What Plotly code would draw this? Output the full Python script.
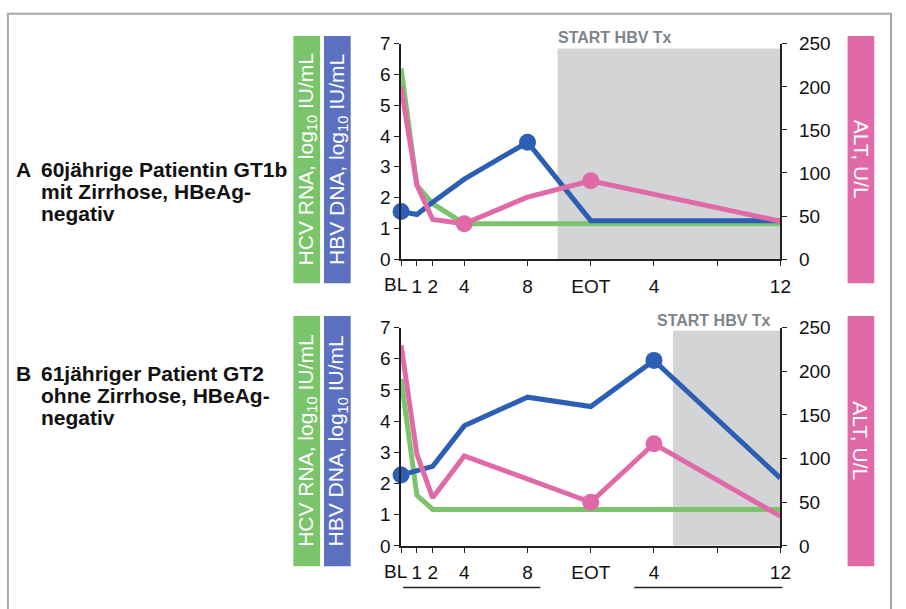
import plotly.graph_objects as go

W, H = 906, 609

# ---------------- data ----------------
tick_vals = [1, 2, 4, 8, 12, 16, 24]
tick_text = ["1", "2", "4", "8", "EOT", "4", "12"]
minor_tick_vals = [0, 20]
baseline_label = "BL"

# Panel A
a_hcv_x = [0, 1, 2, 4, 24]
a_hcv_y = [6.2, 2.4, 1.8, 1.15, 1.15]
a_hbv_x = [0, 1, 2, 4, 8, 12, 24]
a_hbv_y = [1.55, 1.45, 1.85, 2.6, 3.8, 1.25, 1.25]
a_hbv_mx = [0, 8]
a_hbv_my = [1.55, 3.8]
a_alt_x = [0, 1, 2, 4, 8, 12, 24]
a_alt_y = [200, 86, 46, 41, 72, 91, 44]
a_alt_mx = [4, 12]
a_alt_my = [41, 91]
a_shade = [9.9, 24]

# Panel B
b_hcv_x = [0, 1, 2, 24]
b_hcv_y = [5.35, 1.62, 1.17, 1.17]
b_hbv_x = [0, 1, 2, 4, 8, 12, 16, 24]
b_hbv_y = [2.27, 2.42, 2.55, 3.85, 4.77, 4.47, 5.95, 2.17]
b_hbv_mx = [0]
b_hbv_my = [2.27]
b_hbv_mx2 = [16]
b_hbv_my2 = [5.95]
b_alt_x = [0, 1, 2, 4, 12, 16, 24]
b_alt_y = [230, 105, 55, 103, 50, 117, 34]
b_alt_mx = [12, 16]
b_alt_my = [50, 117]
b_shade = [17.2, 24]

title_a = ["A", "60jährige Patientin GT1b", "mit Zirrhose, HBeAg-", "negativ"]
title_b = ["B", "61jähriger Patient GT2", "ohne Zirrhose, HBeAg-", "negativ"]

# ---------------- style ----------------
GREEN = "#7cc46c"
BLUE = "#2c5eb3"
PINK = "#e06aa8"
GREEN_BOX = "#7ac46b"
BLUE_BOX = "#5b70bf"
PINK_BOX = "#e06aa8"
SHADE = "#d3d4d6"
FONT = "Liberation Sans, Arial, sans-serif"


def px(x):
    return x / W


def py(y):
    return 1 - y / H


fig = go.Figure()

LW = 5
MS = 17


def add_panel(xa, yl, yr, hcv, hbv, hbv_marks, alt, alt_marks):
    fig.add_trace(go.Scatter(x=hcv[0], y=hcv[1], mode="lines", line=dict(color=GREEN, width=LW),
                             xaxis=xa, yaxis=yl, cliponaxis=False, showlegend=False))
    fig.add_trace(go.Scatter(x=hbv[0], y=hbv[1], mode="lines", line=dict(color=BLUE, width=LW),
                             xaxis=xa, yaxis=yl, cliponaxis=False, showlegend=False))
    for mx, my in hbv_marks:
        fig.add_trace(go.Scatter(x=mx, y=my, mode="markers", marker=dict(color=BLUE, size=MS),
                                 xaxis=xa, yaxis=yl, cliponaxis=False, showlegend=False))
    fig.add_trace(go.Scatter(x=alt[0], y=alt[1], mode="lines", line=dict(color=PINK, width=LW),
                             xaxis=xa, yaxis=yr, cliponaxis=False, showlegend=False))
    fig.add_trace(go.Scatter(x=alt_marks[0], y=alt_marks[1], mode="markers", marker=dict(color=PINK, size=MS),
                             xaxis=xa, yaxis=yr, cliponaxis=False, showlegend=False))


add_panel("x", "y", "y2", (a_hcv_x, a_hcv_y), (a_hbv_x, a_hbv_y), [(a_hbv_mx, a_hbv_my)],
          (a_alt_x, a_alt_y), (a_alt_mx, a_alt_my))
add_panel("x2", "y3", "y4", (b_hcv_x, b_hcv_y), (b_hbv_x, b_hbv_y),
          [(b_hbv_mx, b_hbv_my), (b_hbv_mx2, b_hbv_my2)],
          (b_alt_x, b_alt_y), (b_alt_mx, b_alt_my))

XDOM = [px(406), px(790)]
DOM_A = [py(258), py(35)]
DOM_B = [py(555), py(329)]

tickfont = dict(family=FONT, size=19, color="#111111")

xcommon = dict(range=[0, 24], tickvals=tick_vals, ticktext=tick_text, showgrid=False, zeroline=False,
               showline=True, linecolor="#222222", linewidth=1.5, ticks="outside", ticklen=5,
               tickcolor="#222222", tickfont=tickfont, domain=XDOM, tickangle=0, ticklabelstandoff=4,
               minor=dict(tickvals=minor_tick_vals, ticks="outside", ticklen=5, tickcolor="#222222",
                          showgrid=False))
ylcommon = dict(range=[0, 7], tickvals=list(range(8)), showgrid=False, zeroline=False, showline=True,
                linecolor="#222222", linewidth=1.5, ticks="outside", ticklen=5, tickcolor="#222222",
                tickfont=tickfont)
yrcommon = dict(range=[0, 250], tickvals=[0, 50, 100, 150, 200, 250], showgrid=False, zeroline=False,
                showline=True, linecolor="#222222", linewidth=1.5, ticks="outside", ticklen=5,
                tickcolor="#222222", tickfont=tickfont, side="right", ticklabelstandoff=8)

fig.update_layout(
    xaxis=dict(**xcommon, anchor="y"),
    yaxis=dict(**ylcommon, domain=DOM_A, anchor="x"),
    yaxis2=dict(**yrcommon, domain=DOM_A, anchor="x", overlaying="y"),
    xaxis2=dict(**xcommon, anchor="y3"),
    yaxis3=dict(**ylcommon, domain=DOM_B, anchor="x2"),
    yaxis4=dict(**yrcommon, domain=DOM_B, anchor="x2", overlaying="y3"),
)

shapes = []
# shaded treatment regions
shapes.append(dict(type="rect", xref="x", yref="y", x0=a_shade[0], x1=a_shade[1], y0=0, y1=6.85,
                   fillcolor=SHADE, line=dict(width=0), layer="below"))
shapes.append(dict(type="rect", xref="x2", yref="y3", x0=b_shade[0], x1=b_shade[1], y0=0, y1=6.9,
                   fillcolor=SHADE, line=dict(width=0), layer="below"))

annotations = []

# baseline tick label, set slightly left of the axis corner as in the reference
for xr, yr in [("x", "y"), ("x2", "y3")]:
    annotations.append(dict(x=0, y=0, xref=xr, yref=yr, text=baseline_label, showarrow=False,
                            xanchor="center", yanchor="top", xshift=-6, yshift=-13, font=tickfont))


def label_box(x0, x1, y0, y1, color, text, angle):
    shapes.append(dict(type="rect", xref="paper", yref="paper", x0=px(x0), x1=px(x1), y0=py(y1), y1=py(y0),
                       fillcolor=color, line=dict(width=0), layer="below"))
    annotations.append(dict(x=px((x0 + x1) / 2), y=py((y0 + y1) / 2), xref="paper", yref="paper", text=text,
                            textangle=angle, showarrow=False, font=dict(family=FONT, size=21, color="white"),
                            xanchor="center", yanchor="middle"))


for (ya, yb) in [(27, 283), (317, 576)]:
    label_box(297, 324, ya, yb, GREEN_BOX, "HCV RNA, log<sub>10</sub> IU/mL", -90)
    label_box(328, 355, ya, yb, BLUE_BOX, "HBV DNA, log<sub>10</sub> IU/mL", -90)
    label_box(858, 885, ya, yb, PINK_BOX, "ALT, U/L", 90)

# START HBV Tx labels
annotations.append(dict(x=px(563), y=py(28), xref="paper", yref="paper", text="<b>START HBV Tx</b>",
                        showarrow=False, xanchor="left", yanchor="middle",
                        font=dict(family=FONT, size=16, color="#7d858c")))
annotations.append(dict(x=px(783), y=py(322), xref="paper", yref="paper", text="<b>START HBV Tx</b>",
                        showarrow=False, xanchor="right", yanchor="middle",
                        font=dict(family=FONT, size=16, color="#7d858c")))


def title(lines, ys):
    tf = dict(family=FONT, size=21, color="#111111")
    annotations.append(dict(x=px(14), y=py(ys[0]), xref="paper", yref="paper", text="<b>" + lines[0] + "</b>",
                            showarrow=False, xanchor="left", yanchor="middle", font=tf))
    for txt, yy in zip(lines[1:], ys):
        annotations.append(dict(x=px(39), y=py(yy), xref="paper", yref="paper", text="<b>" + txt + "</b>",
                                showarrow=False, xanchor="left", yanchor="middle", font=tf))


title(title_a, [165, 188, 211])
title(title_b, [376, 399, 422])

# underlines below panel B axis
for x0, x1 in [(408, 547), (642, 792)]:
    shapes.append(dict(type="line", xref="paper", yref="paper", x0=px(x0), x1=px(x1), y0=py(598), y1=py(598),
                       line=dict(color="#2a2020", width=1.5)))

# outer frame
shapes.append(dict(type="rect", xref="paper", yref="paper", x0=px(8), x1=px(902), y0=-0.05, y1=py(4),
                   line=dict(color="#a8a8a8", width=2), fillcolor="rgba(0,0,0,0)", layer="below"))

fig.update_layout(
    width=W, height=H, margin=dict(l=0, r=0, t=0, b=0),
    paper_bgcolor="white", plot_bgcolor="rgba(0,0,0,0)",
    shapes=shapes, annotations=annotations, showlegend=False,
    font=dict(family=FONT),
)

fig.write_html("out.html")
